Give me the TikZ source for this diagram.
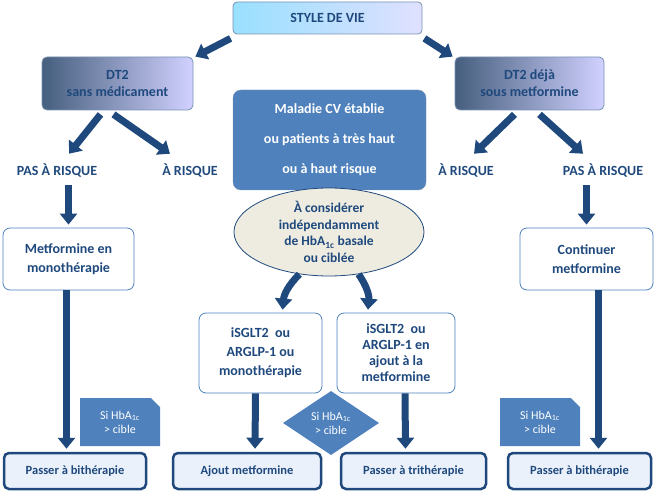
\documentclass[tikz,border=0pt]{standalone}
\usepackage{fontspec}
\setmainfont{Carlito}
\usetikzlibrary{arrows.meta,shapes.geometric,shapes.misc,positioning}
\definecolor{navy}{HTML}{1F497D}
\definecolor{midblue}{HTML}{4F81BD}
\definecolor{paleblue}{HTML}{EAF1FB}
\definecolor{beige}{HTML}{EEECE1}
\begin{document}
\begin{tikzpicture}[x=1pt,y=-1pt,font=\bfseries\fontsize{14}{17}\selectfont,
    top/.style={rectangle, rounded corners=4pt, draw=navy!60, thick, text=navy, align=center,
      left color=blue!30!cyan!40, right color=blue!12!white, minimum height=32, inner sep=2pt},
    branch/.style={rectangle, rounded corners=5pt, draw=navy!60, thick, text=navy, align=center,
      left color=navy!60!gray, right color=blue!18!white, minimum height=53, minimum width=151},
    treat/.style={rectangle, rounded corners=7pt, draw=midblue, thick, fill=white, text=navy, align=center,
      font=\bfseries\fontsize{14}{19}\selectfont},
    final/.style={rectangle, rounded corners=5pt, draw=navy, line width=2.5pt, fill=paleblue, text=navy,
      minimum height=36, font=\bfseries\fontsize{12.5}{15}\selectfont},
    risk/.style={text=navy, font=\bfseries\fontsize{14}{17}\selectfont},
    cond/.style={chamfered rectangle, chamfered rectangle corners=north east, chamfered rectangle xsep=6pt,
      fill=midblue, text=white, align=center, minimum width=80, minimum height=48,
      font=\fontsize{12}{14}\selectfont},
    fat/.style={draw=navy, line width=7pt, -{Triangle[width=17pt,length=11pt]}}]
  \useasboundingbox (0,0) rectangle (659,492);
  % top level
  \node (vie) [top, minimum width=189] at (327.5,18) {STYLE DE VIE};
  \node (sans) [branch] at (117.5,83.5) {DT2\\sans médicament};
  \node (deja) [branch, minimum width=149] at (529.5,83.5) {DT2 déjà\\sous metformine};
  \node (cv) [rectangle, rounded corners=8pt, fill=midblue, draw=navy!60, text=white, align=center,
    minimum width=193, minimum height=100, font=\bfseries\fontsize{14}{30}\selectfont] at (329.5,140)
    {Maladie CV établie\\ou patients à très haut\\ou à haut risque};
  \node (hba) [ellipse, fill=beige, draw=navy, thick, text=navy, align=center, minimum width=190,
    minimum height=88, inner sep=0pt, font=\bfseries\fontsize{13.5}{16.5}\selectfont] at (329,232)
    {À considérer\\indépendamment\\de HbA\textsubscript{1c} basale\\ou ciblée};
  % risk labels
  \node (pasg) [risk] at (57,170) {PAS À RISQUE};
  \node (risg) [risk] at (190,170) {À RISQUE};
  \node (risd) [risk] at (466,170) {À RISQUE};
  \node (pasd) [risk] at (603,170) {PAS À RISQUE};
  % treatments
  \node (mono) [treat, minimum width=131, minimum height=62] at (68.5,259) {Metformine en\\monothérapie};
  \node (cont) [treat, minimum width=133, minimum height=62] at (586.5,259) {Continuer\\metformine};
  \node (isg1) [treat, minimum width=123, minimum height=80] at (260.5,353) {iSGLT2~ ou\\ARGLP-1 ou\\monothérapie};
  \node (isg2) [treat, minimum width=118, minimum height=80, inner sep=0pt,
    font=\bfseries\fontsize{14}{16}\selectfont] at (396,353) {iSGLT2~ ou\\ARGLP-1 en\\ajout à la\\metformine};
  \node (cib) [diamond, fill=midblue, text=white, align=center, minimum width=96, minimum height=64,
    aspect=1.5, inner sep=0pt, font=\fontsize{12}{14}\selectfont] at (331,423) {Si HbA\textsubscript{1c}\\> cible};
  \node (ng) [cond] at (120,422) {Si HbA\textsubscript{1c}\\> cible};
  \node (nd) [cond] at (540,422) {Si HbA\textsubscript{1c}\\> cible};
  % results
  \node (bi1) [final, minimum width=142] at (75,471) {Passer à bithérapie};
  \node (ajo) [final, minimum width=148] at (247,471) {Ajout metformine};
  \node (tri) [final, minimum width=145] at (413.5,471) {Passer à trithérapie};
  \node (bi2) [final, minimum width=143] at (579.5,471) {Passer à bithérapie};
  % arrows
  \draw [fat] (vie.south west) ++(-2,4) -- ([xshift=2pt]sans.north east);
  \draw [fat] (vie.south east) ++(2,4) -- ([xshift=-2pt]deja.north west);
  \draw [fat] ([xshift=-17pt,yshift=-4pt]sans.south) -- ([xshift=12pt,yshift=6pt]pasg.north);
  \draw [fat] ([xshift=-4pt,yshift=-4pt]sans.south) -- ([xshift=-20pt,yshift=6pt]risg.north);
  \draw [fat] ([xshift=-15pt,yshift=-4pt]deja.south) -- ([xshift=8pt,yshift=6pt]risd.north);
  \draw [fat] ([xshift=10pt,yshift=-4pt]deja.south) -- ([xshift=-20pt,yshift=6pt]pasd.north);
  \draw [fat] ([yshift=-5pt]pasg.south -| mono.north) -- ([yshift=3pt]mono.north);
  \draw [fat] ([yshift=-5pt]pasd.south -| cont.north) -- ([yshift=3pt]cont.north);
  \draw [fat] ([xshift=-2pt]mono.south) -- ([xshift=-2pt,yshift=3pt]bi1.north -| mono.south);
  \draw [fat] ([xshift=12pt]cont.south) -- ([xshift=12pt,yshift=3pt]bi2.north -| cont.south);
  \draw [fat] (hba.235) to[bend right=20] ([xshift=22pt,yshift=3pt]isg1.north);
  \draw [fat] (hba.305) to[bend left=20] ([xshift=-28pt,yshift=3pt]isg2.north);
  \draw [fat] ([xshift=-5pt]isg1.south) -- ([xshift=8pt,yshift=3pt]ajo.north);
  \draw [fat] ([xshift=9pt]isg2.south) -- ([xshift=-8pt,yshift=3pt]tri.north);
\end{tikzpicture}
\end{document}
